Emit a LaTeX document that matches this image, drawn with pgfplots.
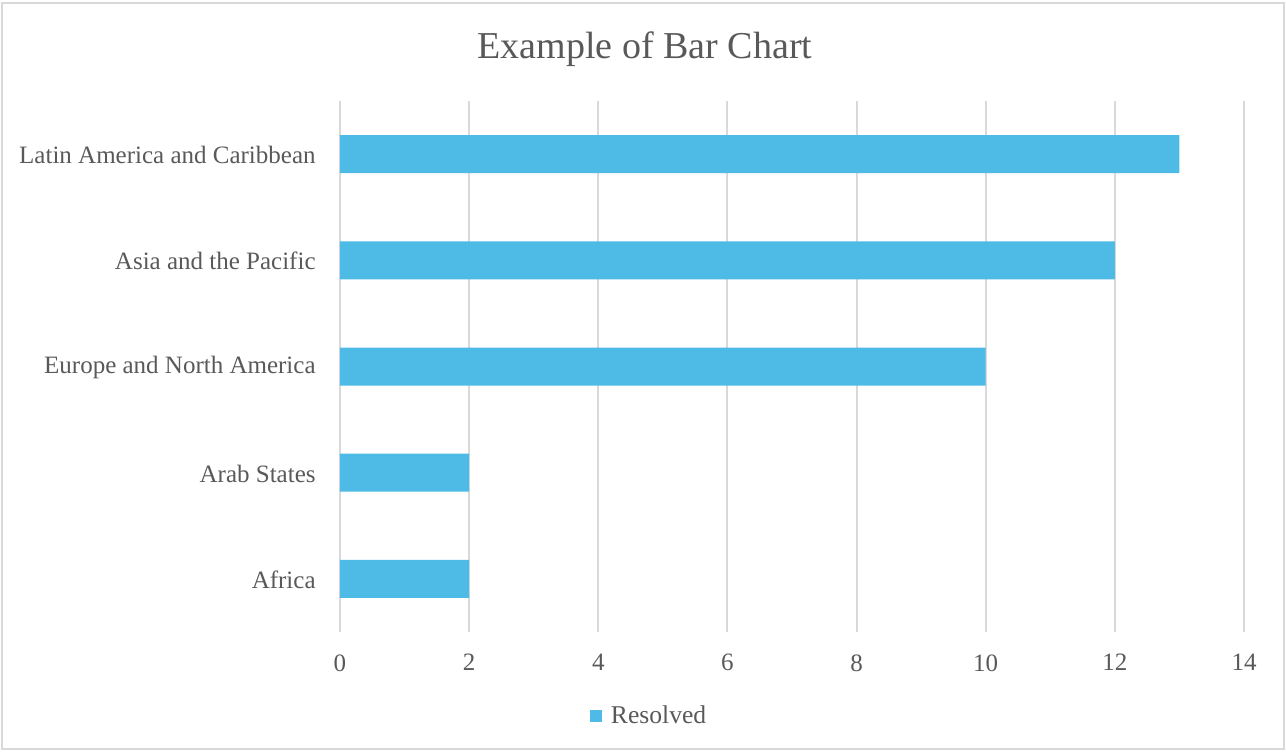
\documentclass[border=0pt]{standalone}
\usepackage{pgfplots}
\pgfplotsset{compat=1.18}
\usepackage{fontspec}
\setmainfont{Liberation Serif}
\definecolor{txt}{HTML}{595959}
\definecolor{gridc}{HTML}{D9D9D9}
\definecolor{barc}{HTML}{4EBAE6}
\begin{document}
\begin{tikzpicture}
\useasboundingbox (0pt,0pt) rectangle (643pt,375.5pt);
\draw[gridc, line width=0.75pt] (1pt,1pt) rectangle (642pt,374pt);
\begin{axis}[
  at={(170pt,59.5pt)}, anchor=south west,
  width=452pt, height=265.5pt, scale only axis,
  xbar, bar width=19pt,
  xmin=0, xmax=14, ymin=-0.5, ymax=4.5,
  xtick={0,2,...,14},
  ytick={0,1,2,3,4},
  yticklabels={Africa,Arab States,Europe and North America,Asia and the Pacific,Latin America and Caribbean},
  axis line style={draw=none},
  major tick length=0pt,
  xmajorgrids, grid style={gridc, line width=1pt},
  /pgf/number format/assume math mode=true,
  tick label style={font=\fontsize{12.5}{14}\selectfont, text=txt},
  yticklabel style={inner sep=0pt, anchor=east, xshift=-12pt, yshift=-0.5pt},
  xticklabel style={inner sep=0pt, anchor=north, yshift=-11pt},
  legend style={at={(axis description cs:0.343,-0.158)}, anchor=center, draw=none, fill=none,
    font=\fontsize{12.8}{14}\selectfont, text=txt, inner sep=0pt},
  legend image code/.code={\fill[barc] (0pt,-3pt) rectangle (6pt,3pt);},
]
\addplot[fill=barc, draw=none] coordinates {(2,0) (2,1) (10,2) (12,3) (13,4)};
\addlegendentry{\hspace{2.5pt}Resolved}
\end{axis}
\node[text=txt, font=\fontsize{19}{22}\selectfont] at (322.5pt,351pt) {Example of Bar Chart};
\end{tikzpicture}
\end{document}
